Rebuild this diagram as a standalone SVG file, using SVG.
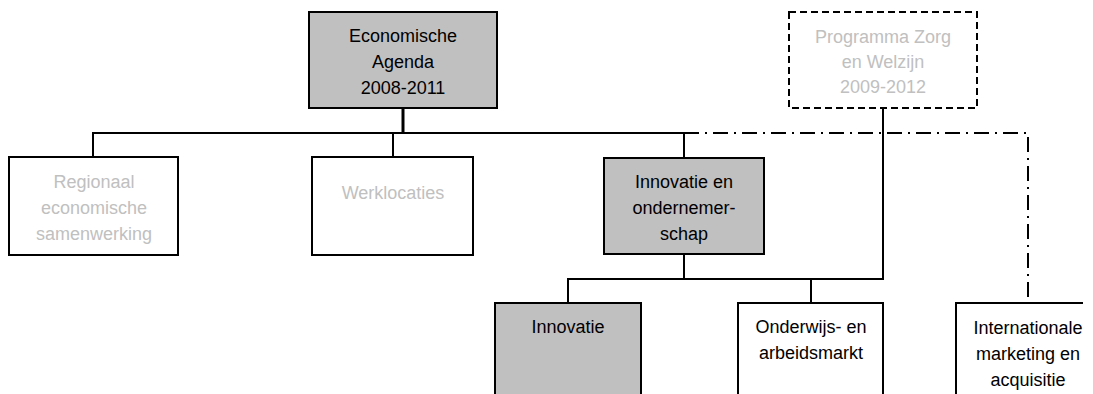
<svg xmlns="http://www.w3.org/2000/svg" width="1093" height="394" viewBox="0 0 1093 394">
<style>
.box{stroke:#000;stroke-width:2;fill:#fff}
.grey{fill:#c0c0c0}
.dashed{stroke-dasharray:7 4}
.t{font-family:"Liberation Sans",Arial,sans-serif;font-size:18px;text-anchor:middle;fill:#000}
.lt{fill:#c0c0c0}
.c{fill:none;stroke:#000;stroke-width:2}
.dd{stroke-dasharray:15 6 2 6}
</style>
<rect width="1093" height="394" fill="#fff"/>
<g id="connectors">
<path class="c" d="M403,108 V133" style="stroke-width:3"/>
<path class="c" d="M93,157 V133 H684 V158"/>
<path class="c" d="M393,133 V157"/>
<path class="c" d="M684,254 V279"/>
<path class="c" d="M568,303 V279 H883 V108"/>
<path class="c" d="M811,279 V303"/>
<path class="c dd" d="M684,133 H1028 V303"/>
</g>
<g id="economische-agenda">
<rect class="box grey" x="309" y="12" width="188" height="96"/>
<text class="t" x="403" y="42">Economische</text>
<text class="t" x="403" y="68">Agenda</text>
<text class="t" x="403" y="94">2008-2011</text>
</g>
<g id="programma-zorg">
<rect class="box dashed" x="789" y="12" width="188" height="96"/>
<text class="t lt" x="883" y="43">Programma Zorg</text>
<text class="t lt" x="883" y="68">en Welzijn</text>
<text class="t lt" x="883" y="93">2009-2012</text>
</g>
<g id="regionaal">
<rect class="box" x="9" y="157" width="169" height="98"/>
<text class="t lt" x="94" y="188">Regionaal</text>
<text class="t lt" x="94" y="214">economische</text>
<text class="t lt" x="94" y="240">samenwerking</text>
</g>
<g id="werklocaties">
<rect class="box" x="312" y="157" width="161" height="98"/>
<text class="t lt" x="393" y="199">Werklocaties</text>
</g>
<g id="innovatie-ondernemerschap">
<rect class="box grey" x="604" y="158" width="160" height="96"/>
<text class="t" x="684" y="188">Innovatie en</text>
<text class="t" x="684" y="214">ondernemer-</text>
<text class="t" x="684" y="240">schap</text>
</g>
<g id="innovatie">
<rect class="box grey" x="495" y="303" width="146" height="100"/>
<text class="t" x="568" y="333">Innovatie</text>
</g>
<g id="onderwijs">
<rect class="box" x="738" y="303" width="145" height="100"/>
<text class="t" x="811" y="333">Onderwijs- en</text>
<text class="t" x="811" y="359">arbeidsmarkt</text>
</g>
<g id="internationale">
<path class="box" d="M956,400 V303 H1083"/>
<text class="t" x="1028" y="334">Internationale</text>
<text class="t" x="1028" y="360">marketing en</text>
<text class="t" x="1028" y="386">acquisitie</text>
</g>
</svg>
